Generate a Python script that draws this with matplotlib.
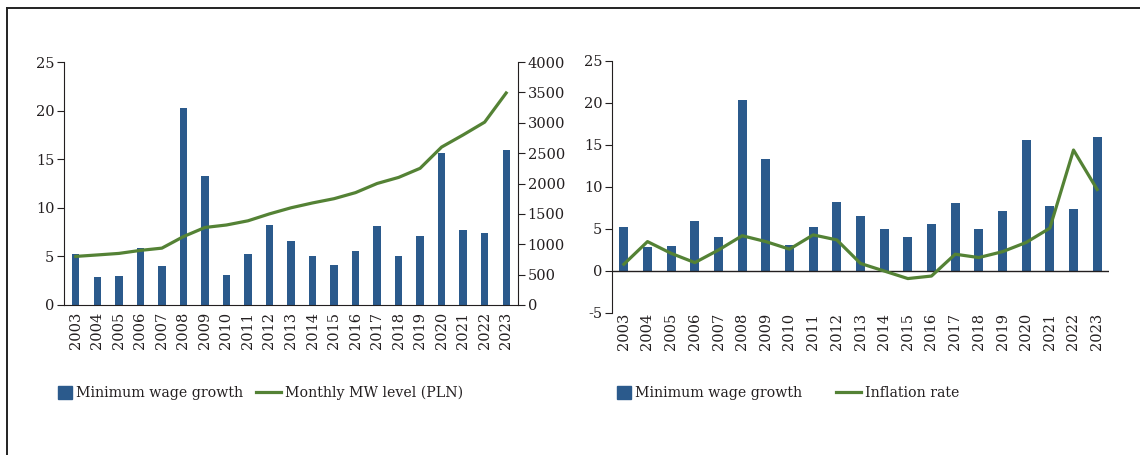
import numpy as np
import matplotlib.pyplot as plt
from matplotlib.lines import Line2D
from matplotlib.patches import Rectangle, Patch
from matplotlib.legend_handler import HandlerPatch

years = [str(y) for y in range(2003, 2024)]
mw_growth = [5.2, 2.9, 3.0, 5.9, 4.0, 20.3, 13.3, 3.1, 5.2, 8.2, 6.6,
             5.0, 4.1, 5.6, 8.1, 5.0, 7.1, 15.6, 7.7, 7.4, 15.9]
mw_level = [800, 824, 849, 899, 936, 1126, 1276, 1317, 1386, 1500, 1600,
            1680, 1750, 1850, 2000, 2100, 2250, 2600, 2800, 3010, 3490]
inflation = [0.8, 3.5, 2.1, 1.0, 2.5, 4.2, 3.5, 2.6, 4.3, 3.7, 0.9,
             0.0, -0.9, -0.6, 2.0, 1.6, 2.3, 3.4, 5.1, 14.4, 9.7]

BLUE = '#2b5a8c'
GREEN = '#548235'
TXT = '#231f20'

plt.rcParams['font.family'] = ['DejaVu Serif']
plt.rcParams['font.size'] = 10.5
plt.rcParams['axes.unicode_minus'] = False
plt.rcParams['text.color'] = TXT
plt.rcParams['xtick.color'] = TXT
plt.rcParams['ytick.color'] = TXT

W, H = 1140, 455
fig = plt.figure(figsize=(W / 100, H / 100), dpi=100)

# frame lines (top and left)
fig.add_artist(Line2D([7 / W, 1], [1 - 8 / H, 1 - 8 / H], color='#222', lw=1.4))
fig.add_artist(Line2D([7 / W, 7 / W], [0, 1 - 8 / H], color='#222', lw=1.4))

x = np.arange(len(years))


def style(ax):
    ax.spines['top'].set_visible(False)
    ax.tick_params(axis='x', length=0, rotation=90)
    ax.tick_params(axis='y', length=5, width=0.8, pad=2)
    for s in ax.spines.values():
        s.set_color(TXT)
        s.set_linewidth(0.8)


# left chart
ax1 = fig.add_axes([64 / W, 1 - 305 / H, 454 / W, 243 / H])
ax1.bar(x, mw_growth, width=0.34, color=BLUE, zorder=2)
ax1.set_ylim(0, 25)
ax1.set_yticks(range(0, 26, 5))
ax1.set_xlim(-0.55, len(years) - 0.45)
ax1.set_xticks(x)
ax1.set_xticklabels(years)
style(ax1)
ax1.spines['right'].set_visible(False)
ax1.tick_params(axis='x', pad=5)

ax1b = ax1.twinx()
ax1b.plot(x, mw_level, color=GREEN, lw=2.3, zorder=3)
ax1b.set_ylim(0, 4000)
ax1b.set_yticks(range(0, 4001, 500))
style(ax1b)
ax1b.spines['left'].set_visible(False)
ax1b.spines['bottom'].set_visible(False)

# right chart
ax2 = fig.add_axes([612 / W, 1 - 313 / H, 497 / W, 252 / H])
ax2.bar(x, mw_growth, width=0.38, color=BLUE, zorder=2)
ax2.plot(x, inflation, color=GREEN, lw=2.3, zorder=3)
ax2.axhline(0, color=TXT, lw=1.0, zorder=2.5)
ax2.set_ylim(-5, 25)
ax2.set_yticks(range(-5, 26, 5))
ax2.set_xlim(-0.5, len(years) - 0.5)
ax2.set_xticks(x)
ax2.set_xticklabels(years)
style(ax2)
ax2.spines['right'].set_visible(False)
ax2.spines['bottom'].set_visible(False)
ax2.tick_params(axis='x', pad=0)


def square(legend, orig_handle, xdescent, ydescent, width, height, fontsize):
    s = 9.4
    return Rectangle((width - s - xdescent, (height - s) / 2 - ydescent), s, s)


def entry(handle, label, xpx):
    fig.legend([handle], [label], loc='center left',
               bbox_to_anchor=(xpx / W, 1 - 393 / H), frameon=False,
               borderpad=0, borderaxespad=0, handlelength=1.73,
               handletextpad=0.35, fontsize=10.2,
               handler_map={Patch: HandlerPatch(patch_func=square)})


entry(Patch(color=BLUE), 'Minimum wage growth', 47)
entry(Line2D([], [], color=GREEN, lw=2.3), 'Monthly MW level (PLN)', 256)
entry(Patch(color=BLUE), 'Minimum wage growth', 606)
entry(Line2D([], [], color=GREEN, lw=2.3), 'Inflation rate', 836)

fig.savefig('out.png', dpi=100)
